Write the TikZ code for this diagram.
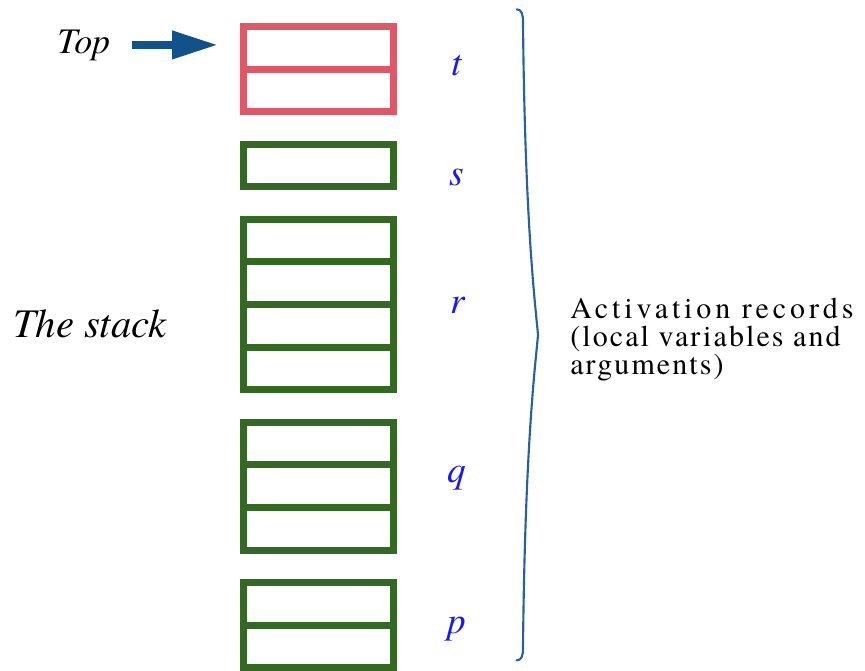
\documentclass[tikz,border=0pt]{standalone}
\usepackage{fontspec}
\setmainfont{texgyretermes}[Extension=.otf, UprightFont=*-regular, ItalicFont=*-italic, BoldFont=*-bold, BoldItalicFont=*-bolditalic]
\newfontfamily\spacedfont{texgyretermes}[Extension=.otf, UprightFont=*-regular, LetterSpace=7]
\usetikzlibrary{positioning, arrows.meta}
\definecolor{framegreen}{RGB}{51,105,34}
\definecolor{framered}{RGB}{222,88,104}
\definecolor{labelblue}{RGB}{25,25,245}
\definecolor{arrowblue}{RGB}{18,82,140}
\definecolor{braceblue}{RGB}{40,95,165}

\begin{document}
\begin{tikzpicture}[x=0.75pt, y=-0.75pt, node distance=24.2pt,
    frame/.style={draw=framegreen, line width=5.25pt, minimum width=112pt, inner sep=0pt, outer sep=0pt},
    reclabel/.style={text=labelblue, font=\fontsize{28}{28}\selectfont\itshape, anchor=base, inner sep=0pt},
    sidetext/.style={font=\fontsize{27}{27}\selectfont\itshape, anchor=base west, inner sep=0pt}]
    \useasboundingbox (0,0) rectangle (865,671);
    % Nodes
    \node[frame, draw=framered, minimum height=64pt] (t) at (318.4,69.3) {};
    \node[frame, minimum height=32pt, below=of t] (s) {};
    \node[frame, minimum height=128pt, below=of s] (r) {};
    \node[frame, minimum height=96pt, below=of r] (q) {};
    \node[frame, minimum height=64pt, below=of q] (p) {};
    \foreach \f/\c/\n in {t/framered/1, r/framegreen/3, q/framegreen/2, p/framegreen/1}
        \foreach \k in {1,...,\n}
            \draw[\c, line width=5.25pt] ([yshift=-\k*32pt]\f.north west) -- ([yshift=-\k*32pt]\f.north east);
    \node[reclabel] (tlabel) at (457,75) {t};
    \node[reclabel] (slabel) at (457,185) {s};
    \node[reclabel] (rlabel) at (458,313) {r};
    \node[reclabel] (qlabel) at (457,482) {q};
    \node[reclabel] (plabel) at (457,633) {p};
    \node[sidetext] (top) at (57,53) {Top};
    \node[sidetext, font=\fontsize{30.5}{30}\selectfont\itshape] (stack) at (13,337) {The stack};
    \coordinate (bracetop) at (516.7,9.3);
    \coordinate (bracetip) at (538,335);
    \coordinate (bracebot) at (516.7,660.3);
    \node[anchor=west, align=left, inner sep=0pt, font=\fontsize{22.5}{21}\selectfont\spacedfont] (records) at (570,340)
        {{\addfontfeature{LetterSpace=13}Activation records}\\(local variables and\\arguments)};

    % Connections
    \draw[arrowblue, line width=6pt, -{Triangle[length=34.5pt, width=20pt]}, shorten <=16.5pt, shorten >=19.3pt] (top.east) -- (top.east -| t.west);
    \draw[braceblue, line width=1.6pt, line cap=round] (bracetop) .. controls (521.5,9.5) and (523,14) .. (523,22)
        .. controls (525,230) and (536,310) .. (bracetip)
        .. controls (536,360) and (525,440) .. (523,648)
        .. controls (523,656) and (521.5,660.3) .. (bracebot);
\end{tikzpicture}
\end{document}
